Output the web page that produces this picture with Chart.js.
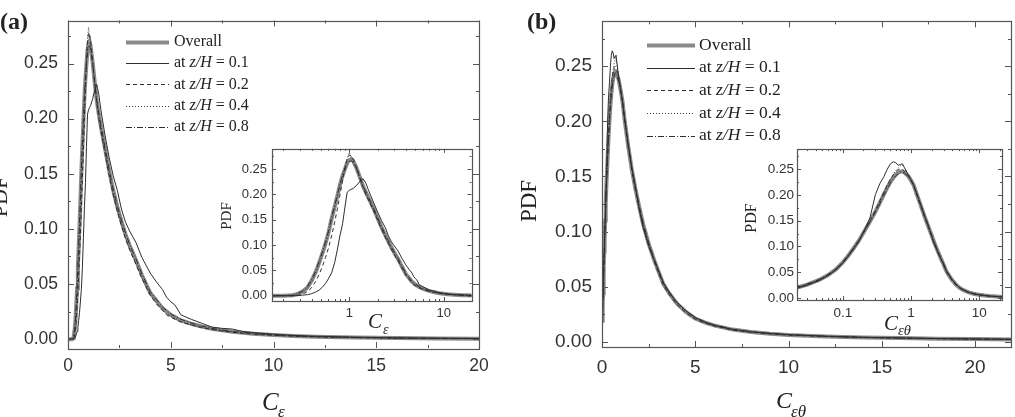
<!DOCTYPE html>
<html>
<head>
<meta charset="utf-8">
<script src="https://cdn.jsdelivr.net/npm/chart.js@4.4.0/dist/chart.umd.min.js"></script>
<style>
  body { margin: 0; background: #fff; }
  #wrap { position: relative; width: 1015px; height: 417px; overflow: hidden; background: #fff; }
  canvas { position: absolute; }
</style>
</head>
<body>
<div id="wrap">
  <canvas id="mainA" width="500" height="417" style="left:0px;top:0px"></canvas>
  <canvas id="insetA" width="264" height="204" style="left:212px;top:136px"></canvas>
  <canvas id="mainB" width="515" height="417" style="left:500px;top:0px"></canvas>
  <canvas id="insetB" width="267" height="202" style="left:740px;top:138px"></canvas>
</div>
<script>
// panel (a): C_eps
const xA = [0, 0.1, 0.2, 0.25, 0.28, 0.32, 0.36, 0.4, 0.44, 0.48, 0.52, 0.56, 0.6, 0.65, 0.7,
  0.75, 0.8, 0.85, 0.9, 0.95, 1.0, 1.05, 1.1, 1.2, 1.3, 1.4, 1.5, 1.6, 1.8, 2.0,
  2.2, 2.4, 2.6, 2.8, 3.0, 3.3, 3.6, 4.0, 4.3, 4.6, 4.8, 5.0, 5.2, 5.5, 6.0,
  6.5, 7.0, 7.5, 8.0, 8.5, 9, 10, 11, 12, 14, 16, 18, 20];
const aOverall = [0, 0, 0, 0.001, 0.003, 0.008, 0.016, 0.03, 0.046, 0.065, 0.084, 0.103, 0.123, 0.152, 0.175,
  0.198, 0.22, 0.237, 0.25, 0.262, 0.268, 0.27, 0.266, 0.251, 0.233, 0.216, 0.204, 0.193, 0.173, 0.153,
  0.135, 0.12, 0.107, 0.095, 0.085, 0.072, 0.058, 0.042, 0.035, 0.028, 0.025, 0.022, 0.02, 0.017, 0.014,
  0.0115, 0.0095, 0.008, 0.0068, 0.0058, 0.005, 0.0038, 0.0029, 0.0023, 0.0015, 0.001, 0.0007, 0.0005];
const aZ01 = [0, 0, 0, 0, 0, 0.001, 0.002, 0.004, 0.007, 0.011, 0.017, 0.024, 0.033, 0.045, 0.065,
  0.092, 0.12, 0.142, 0.175, 0.204, 0.208, 0.21, 0.212, 0.218, 0.226, 0.231, 0.222, 0.208, 0.185, 0.165,
  0.148, 0.135, 0.118, 0.106, 0.098, 0.088, 0.074, 0.06, 0.052, 0.045, 0.038, 0.034, 0.031, 0.022, 0.018,
  0.0145, 0.011, 0.0098, 0.0092, 0.007, 0.006, 0.0045, 0.0034, 0.0027, 0.0018, 0.0012, 0.0009, 0.0006];
const aZ02 = [0, 0, 0, 0, 0, 0.003, 0.008, 0.016, 0.028, 0.042, 0.058, 0.075, 0.093, 0.118, 0.145,
  0.172, 0.2, 0.228, 0.252, 0.27, 0.278, 0.276, 0.27, 0.252, 0.232, 0.215, 0.2, 0.189, 0.169, 0.149,
  0.131, 0.116, 0.103, 0.091, 0.081, 0.068, 0.055, 0.04, 0.032, 0.026, 0.022, 0.02, 0.018, 0.0155, 0.0128,
  0.0105, 0.0088, 0.0074, 0.0063, 0.0054, 0.0046, 0.0035, 0.0027, 0.0021, 0.0014, 0.0009, 0.0006, 0.0005];
const aZ04 = [0, 0, 0, 0, 0.002, 0.007, 0.015, 0.028, 0.044, 0.062, 0.081, 0.1, 0.12, 0.148, 0.172,
  0.196, 0.219, 0.238, 0.255, 0.272, 0.283, 0.274, 0.266, 0.25, 0.231, 0.214, 0.202, 0.19, 0.17, 0.15,
  0.132, 0.117, 0.104, 0.092, 0.082, 0.069, 0.056, 0.041, 0.033, 0.027, 0.023, 0.021, 0.019, 0.016, 0.013,
  0.0108, 0.009, 0.0076, 0.0065, 0.0056, 0.0048, 0.0036, 0.0028, 0.0022, 0.0014, 0.0009, 0.0007, 0.0005];
const aZ08 = [0, 0, 0, 0.001, 0.004, 0.009, 0.018, 0.032, 0.049, 0.068, 0.087, 0.106, 0.126, 0.155, 0.178,
  0.2, 0.221, 0.238, 0.25, 0.26, 0.265, 0.266, 0.263, 0.25, 0.233, 0.217, 0.205, 0.194, 0.174, 0.154,
  0.136, 0.121, 0.108, 0.096, 0.086, 0.073, 0.059, 0.043, 0.036, 0.029, 0.026, 0.023, 0.021, 0.018, 0.0145,
  0.012, 0.0098, 0.0082, 0.007, 0.006, 0.0052, 0.0039, 0.003, 0.0024, 0.0016, 0.0011, 0.0008, 0.0006];

// panel (b): C_eps_theta
const xB = [0.02, 0.03, 0.045, 0.06, 0.08, 0.1, 0.12, 0.14, 0.17, 0.2, 0.25, 0.3, 0.35, 0.4, 0.45,
  0.5, 0.55, 0.6, 0.65, 0.7, 0.75, 0.8, 0.9, 1.0, 1.1, 1.2, 1.4, 1.6, 1.8, 2.0,
  2.2, 2.5, 2.8, 3.0, 3.3, 3.6, 4.0, 4.5, 5.0, 5.5, 6, 7, 8, 9, 10, 12, 14, 16, 18, 20, 22];
const bOverall = [0.019, 0.026, 0.035, 0.044, 0.056, 0.069, 0.082, 0.094, 0.11, 0.126, 0.148, 0.167, 0.185, 0.201, 0.214,
  0.225, 0.233, 0.239, 0.243, 0.245, 0.245, 0.243, 0.237, 0.228, 0.218, 0.203, 0.178, 0.156, 0.138, 0.122,
  0.107, 0.089, 0.074, 0.065, 0.052, 0.044, 0.035, 0.027, 0.021, 0.0175, 0.0148, 0.011, 0.0088, 0.0073, 0.0062,
  0.0048, 0.0039, 0.0033, 0.0028, 0.0024, 0.0021];
const bZ01 = [0.018, 0.025, 0.034, 0.043, 0.055, 0.068, 0.081, 0.093, 0.109, 0.127, 0.155, 0.2, 0.222, 0.235, 0.25,
  0.26, 0.264, 0.262, 0.257, 0.259, 0.26, 0.253, 0.24, 0.229, 0.218, 0.204, 0.18, 0.158, 0.14, 0.12,
  0.104, 0.087, 0.074, 0.066, 0.053, 0.045, 0.036, 0.028, 0.022, 0.018, 0.015, 0.0112, 0.009, 0.0075, 0.0064,
  0.005, 0.004, 0.0034, 0.0029, 0.0025, 0.0022];
const bZ02 = [0.019, 0.026, 0.035, 0.044, 0.056, 0.069, 0.082, 0.094, 0.11, 0.126, 0.149, 0.169, 0.188, 0.205, 0.219,
  0.23, 0.239, 0.245, 0.249, 0.25, 0.249, 0.246, 0.238, 0.228, 0.217, 0.202, 0.177, 0.155, 0.137, 0.121,
  0.106, 0.088, 0.073, 0.064, 0.051, 0.043, 0.034, 0.026, 0.0205, 0.017, 0.0144, 0.0107, 0.0086, 0.0071, 0.006,
  0.0047, 0.0038, 0.0032, 0.0027, 0.0023, 0.002];
const bZ04 = [0.018, 0.025, 0.034, 0.043, 0.055, 0.068, 0.081, 0.093, 0.109, 0.125, 0.147, 0.167, 0.186, 0.203, 0.218,
  0.23, 0.24, 0.247, 0.252, 0.256, 0.258, 0.252, 0.24, 0.23, 0.219, 0.205, 0.18, 0.157, 0.139, 0.122,
  0.107, 0.089, 0.074, 0.065, 0.052, 0.044, 0.035, 0.027, 0.021, 0.0175, 0.0148, 0.011, 0.0088, 0.0073, 0.0062,
  0.0048, 0.0039, 0.0033, 0.0028, 0.0024, 0.0021];
const bZ08 = [0.02, 0.027, 0.036, 0.045, 0.057, 0.07, 0.083, 0.095, 0.111, 0.127, 0.148, 0.166, 0.183, 0.199, 0.212,
  0.223, 0.231, 0.237, 0.241, 0.244, 0.244, 0.242, 0.236, 0.228, 0.218, 0.204, 0.179, 0.157, 0.139, 0.123,
  0.108, 0.09, 0.075, 0.066, 0.053, 0.045, 0.036, 0.028, 0.022, 0.018, 0.0152, 0.0113, 0.009, 0.0075, 0.0064,
  0.005, 0.004, 0.0034, 0.0029, 0.0025, 0.0022];

const seriesLabels = ['Overall', '0.1', '0.2', '0.4', '0.8'];
const yTickVals = [0, 0.05, 0.1, 0.15, 0.2, 0.25];
const yMinorVals = [0.025, 0.075, 0.125, 0.175, 0.225, 0.275];
const mainXTicks = [0, 5, 10, 15, 20];
const mainXMinor = [2.5, 7.5, 12.5, 17.5];
const insetXTicksA = [1, 10];
const insetXTicksB = [0.1, 1, 10];
const logMinor = [0.03, 0.04, 0.05, 0.06, 0.07, 0.08, 0.09, 0.2, 0.3, 0.4, 0.5, 0.6, 0.7, 0.8, 0.9,
  2, 3, 4, 5, 6, 7, 8, 9, 20];

const lineStyles = [
  { color: '#8a8a8a', width: 4, dash: [] },
  { color: '#2e2e2e', width: 1, dash: [] },
  { color: '#2e2e2e', width: 1, dash: [4, 3] },
  { color: '#3a3a3a', width: 1, dash: [1, 2] },
  { color: '#2e2e2e', width: 1, dash: [6, 2, 1, 2] }
];

const SANS = '"Liberation Sans", Arial, sans-serif';
const SERIF = '"Liberation Serif", "Times New Roman", serif';

function makeDatasets(xs, list, isLog) {
  return list.map((ys, i) => ({
    label: seriesLabels[i],
    data: xs.map((x, j) => ({ x: x, y: ys[j] })).filter(p => !isLog || p.x > 0),
    borderColor: lineStyles[i].color,
    borderWidth: lineStyles[i].width,
    borderDash: lineStyles[i].dash,
    pointRadius: 0,
    tension: 0,
    fill: false,
    order: i === 0 ? 1 : 0
  }));
}

// box round the plot, ticks pointing inwards on all four sides
const frameTicks = {
  id: 'frameTicks',
  afterDatasetsDraw(chart, args, o) {
    const { ctx, chartArea: a, scales } = chart;
    const x = scales.x, y = scales.y;
    ctx.save();
    ctx.strokeStyle = o.color;
    ctx.lineWidth = 1;
    ctx.beginPath();
    const mx = (v, len) => {
      if (v < x.min || v > x.max) return;
      const p = Math.round(x.getPixelForValue(v)) + 0.5;
      ctx.moveTo(p, a.bottom); ctx.lineTo(p, a.bottom - len);
      ctx.moveTo(p, a.top); ctx.lineTo(p, a.top + len);
    };
    const my = (v, len) => {
      if (v < y.min || v > y.max) return;
      const p = Math.round(y.getPixelForValue(v)) + 0.5;
      ctx.moveTo(a.left, p); ctx.lineTo(a.left + len, p);
      ctx.moveTo(a.right, p); ctx.lineTo(a.right - len, p);
    };
    x.ticks.forEach(t => mx(t.value, o.major));
    (o.xMinor || []).forEach(v => mx(v, o.minor));
    y.ticks.forEach(t => my(t.value, o.major));
    (o.yMinor || []).forEach(v => my(v, o.minor));
    ctx.stroke();
    ctx.lineWidth = o.frameWidth;
    ctx.strokeRect(Math.round(a.left) + 0.5, Math.round(a.top) + 0.5,
      Math.round(a.right - a.left), Math.round(a.bottom - a.top));
    ctx.restore();
  }
};

// axis titles, legend and panel letter
const decor = {
  id: 'decor',
  afterDraw(chart, args, o) {
    const ctx = chart.ctx;
    ctx.save();
    ctx.fillStyle = '#222';
    ctx.save();
    ctx.font = o.yTitle.font;
    ctx.textAlign = 'center';
    ctx.textBaseline = 'middle';
    ctx.translate(o.yTitle.x, o.yTitle.y);
    ctx.rotate(-Math.PI / 2);
    ctx.fillText('PDF', 0, 0);
    ctx.restore();

    const t = o.xTitle;
    ctx.textAlign = 'left';
    ctx.textBaseline = 'alphabetic';
    ctx.font = 'italic ' + t.size + 'px ' + SERIF;
    ctx.fillText('C', t.x, t.y);
    ctx.font = 'italic ' + t.subSize + 'px ' + SERIF;
    ctx.fillText(t.sub, t.subX, t.subY);

    if (o.letter) {
      ctx.font = 'bold ' + o.letter.size + 'px ' + SERIF;
      ctx.fillText(o.letter.text, o.letter.x, o.letter.y);
    }

    if (o.legend) {
      const L = o.legend;
      const f = L.size + 'px ' + SERIF;
      chart.data.datasets.forEach((ds, i) => {
        const yy = L.y0 + i * L.dy;
        ctx.save();
        ctx.strokeStyle = ds.borderColor;
        ctx.lineWidth = ds.borderWidth;
        ctx.setLineDash(ds.borderDash);
        ctx.beginPath();
        ctx.moveTo(L.x0, Math.round(yy) + 0.5);
        ctx.lineTo(L.x1, Math.round(yy) + 0.5);
        ctx.stroke();
        ctx.restore();
        ctx.textBaseline = 'middle';
        let tx = L.tx;
        ctx.font = f;
        if (i === 0) {
          ctx.fillText(ds.label, tx, yy);
        } else {
          ctx.fillText('at ', tx, yy);
          tx += ctx.measureText('at ').width;
          ctx.font = 'italic ' + f;
          ctx.fillText('z/H', tx, yy);
          tx += ctx.measureText('z/H').width;
          ctx.font = f;
          ctx.fillText(' = ' + ds.label, tx, yy);
        }
      });
    }
    ctx.restore();
  }
};

function build(id, cfg) {
  const isLog = cfg.log;
  return new Chart(document.getElementById(id), {
    type: 'line',
    data: { datasets: makeDatasets(cfg.xs, cfg.series, isLog) },
    options: {
      responsive: false,
      animation: false,
      devicePixelRatio: 1,
      layout: { padding: { top: cfg.padTop, right: cfg.padRight, left: 0, bottom: 0 } },
      plugins: {
        legend: { display: false },
        tooltip: { enabled: false },
        frameTicks: { color: '#555', frameWidth: 1.2, major: cfg.major, minor: cfg.minor,
          xMinor: cfg.xMinor, yMinor: yMinorVals },
        decor: cfg.decor
      },
      scales: {
        x: {
          type: isLog ? 'logarithmic' : 'linear',
          min: cfg.xMin, max: cfg.xMax,
          afterBuildTicks: s => { s.ticks = cfg.xTicks.map(v => ({ value: v })); },
          afterFit: s => { s.height = cfg.xHeight; },
          grid: { display: false, drawTicks: false },
          border: { display: false },
          ticks: {
            autoSkip: false, maxRotation: 0, padding: cfg.xPad, color: '#333',
            font: { family: SANS, size: cfg.tickSize },
            callback: v => String(v)
          }
        },
        y: {
          min: cfg.yMin, max: cfg.yMax,
          afterBuildTicks: s => { s.ticks = yTickVals.map(v => ({ value: v })); },
          afterFit: s => { s.width = cfg.yWidth; },
          grid: { display: false, drawTicks: false },
          border: { display: false },
          ticks: {
            autoSkip: false, padding: cfg.yPad, color: '#333',
            font: { family: SANS, size: cfg.tickSize },
            callback: v => Number(v).toFixed(2)
          }
        }
      }
    },
    plugins: [frameTicks, decor]
  });
}

const seriesA = [aOverall, aZ01, aZ02, aZ04, aZ08];
const seriesB = [bOverall, bZ01, bZ02, bZ04, bZ08];

build('mainA', {
  xs: xA, series: seriesA, log: false,
  xMin: 0, xMax: 20, xTicks: mainXTicks, xMinor: mainXMinor,
  yMin: -0.008, yMax: 0.289,
  padTop: 20, padRight: 21, xHeight: 69, yWidth: 68,
  xPad: 8, yPad: 10, tickSize: 17.5, major: 6, minor: 3,
  decor: {
    yTitle: { x: 1, y: 197, font: '22px ' + SERIF },
    xTitle: { x: 262, y: 410, size: 25, sub: 'ε', subX: 278, subY: 417, subSize: 17 },
    letter: { text: '(a)', x: 0, y: 29, size: 24 },
    legend: { x0: 126, x1: 169, tx: 174, y0: 42, dy: 21.2, size: 16 }
  }
});

build('insetA', {
  xs: xA, series: seriesA, log: true,
  xMin: 0.152, xMax: 19.7, xTicks: insetXTicksA, xMinor: logMinor,
  yMin: -0.0105, yMax: 0.29,
  padTop: 8, padRight: 4.5, xHeight: 39, yWidth: 60,
  xPad: 5, yPad: 5, tickSize: 13, major: 4, minor: 2,
  decor: {
    yTitle: { x: 15.5, y: 80, font: '15px ' + SERIF },
    xTitle: { x: 156, y: 192, size: 21, sub: 'ε', subX: 171, subY: 198, subSize: 14 }
  }
});

build('mainB', {
  xs: xB, series: seriesB, log: false,
  xMin: 0, xMax: 21.93, xTicks: mainXTicks, xMinor: mainXMinor,
  yMin: -0.0048, yMax: 0.2907,
  padTop: 18, padRight: 4, xHeight: 70, yWidth: 102,
  xPad: 9, yPad: 10, tickSize: 19, major: 6, minor: 3,
  decor: {
    yTitle: { x: 30, y: 201, font: '23px ' + SERIF },
    xTitle: { x: 276, y: 408, size: 24, sub: 'εθ', subX: 291, subY: 417, subSize: 17 },
    letter: { text: '(b)', x: 27, y: 29, size: 24 },
    legend: { x0: 147, x1: 195, tx: 199, y0: 45, dy: 22.7, size: 17.5 }
  }
});

build('insetB', {
  xs: xB, series: seriesB, log: true,
  xMin: 0.0213, xMax: 21.6, xTicks: insetXTicksB, xMinor: logMinor,
  yMin: -0.0038, yMax: 0.2885,
  padTop: 8, padRight: 5, xHeight: 40, yWidth: 57,
  xPad: 5, yPad: 3, tickSize: 13.5, major: 4, minor: 2,
  decor: {
    yTitle: { x: 12, y: 80, font: '16px ' + SERIF },
    xTitle: { x: 144, y: 191.5, size: 21, sub: 'εθ', subX: 158, subY: 196.5, subSize: 14.5 }
  }
});
</script>
</body>
</html>
